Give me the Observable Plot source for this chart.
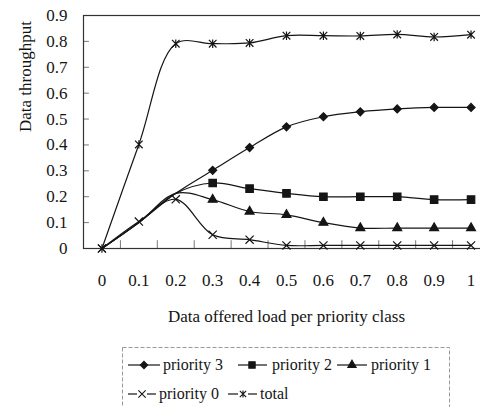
<!DOCTYPE html>
<html>
<head>
<meta charset="utf-8">
<script src="https://cdn.jsdelivr.net/npm/d3@7"></script>
<script src="https://cdn.jsdelivr.net/npm/@observablehq/plot@0.6"></script>
<style>
  html, body { margin: 0; padding: 0; background: #fff; overflow: hidden; }
  #chart { width: 480px; height: 407px; overflow: hidden; position: relative; }
</style>
</head>
<body>
<div id="chart"></div>
<script>
// Offered load per priority class (categories along x)
const loads = [0, 0.1, 0.2, 0.3, 0.4, 0.5, 0.6, 0.7, 0.8, 0.9, 1];
const xTickLabels = ["0", "0.1", "0.2", "0.3", "0.4", "0.5", "0.6", "0.7", "0.8", "0.9", "1"];
const yTicks = [0, 0.1, 0.2, 0.3, 0.4, 0.5, 0.6, 0.7, 0.8, 0.9];
const yTickLabels = ["0", "0.1", "0.2", "0.3", "0.4", "0.5", "0.6", "0.7", "0.8", "0.9"];

// Data throughput per class
const seriesNames = ["priority 3", "priority 2", "priority 1", "priority 0", "total"];
const priority3 = [0, 0.100, 0.213, 0.302, 0.390, 0.470, 0.509, 0.528, 0.539, 0.545, 0.545];
const priority2 = [0, 0.100, 0.213, 0.253, 0.231, 0.213, 0.200, 0.200, 0.200, 0.189, 0.189];
const priority1 = [0, 0.100, 0.213, 0.189, 0.143, 0.130, 0.100, 0.079, 0.079, 0.079, 0.079];
const priority0 = [0, 0.104, 0.190, 0.053, 0.034, 0.012, 0.012, 0.012, 0.012, 0.012, 0.012];
const total     = [0, 0.402, 0.791, 0.791, 0.794, 0.822, 0.822, 0.821, 0.827, 0.817, 0.826];
const seriesValues = [priority3, priority2, priority1, priority0, total];

const xTitle = "Data offered load per priority class";
const yTitle = "Data throughput";

const serif = "'Liberation Serif', 'Times New Roman', 'DejaVu Serif', serif";
const ink = "#151515";

// "X with a vertical bar" marker used for the total
const starMarker = {
  draw(ctx, size) {
    const r = Math.sqrt(size) * 0.5;
    ctx.moveTo(-r, -r); ctx.lineTo(r, r);
    ctx.moveTo(-r, r); ctx.lineTo(r, -r);
    ctx.moveTo(0, -r * 1.1); ctx.lineTo(0, r * 1.1);
  }
};

const markerStyle = {
  "priority 3": {symbol: "diamond2", r: 3.6, fill: ink, stroke: ink, legendSize: 34},
  "priority 2": {symbol: "square", r: 4.2, fill: ink, stroke: ink, legendSize: 40},
  "priority 1": {symbol: "triangle", r: 3.3, fill: ink, stroke: ink, legendSize: 30},
  "priority 0": {symbol: "times", r: 3.8, fill: "none", stroke: ink, legendSize: 36},
  "total":      {symbol: starMarker, r: 4.3, fill: "none", stroke: ink, legendSize: 40}
};
// the three upper classes only carry markers once they split apart
const markersFrom = {"priority 3": 0.3, "priority 2": 0.3, "priority 1": 0.3, "priority 0": 0, "total": 0};

const rows = [];
seriesNames.forEach((name, s) => {
  seriesValues[s].forEach((v, i) => rows.push({series: name, load: loads[i], value: v}));
});

// category boundaries, where the small inner ticks of the x axis sit
const boundaries = loads.slice(1).map((v, i) => (v + loads[i]) / 2);

const plot = Plot.plot({
  width: 489,
  height: 340,
  marginLeft: 83,
  marginRight: 0,
  marginTop: 15,
  marginBottom: 92,
  style: {fontFamily: serif, fontSize: "17px", color: ink, background: "#fff", maxWidth: "none", overflow: "visible"},
  x: {
    domain: [-0.05, 1.05],
    ticks: loads,
    tickSize: 0,
    tickPadding: 25,
    tickFormat: d => xTickLabels[loads.indexOf(d)],
    label: null
  },
  y: {
    domain: [0, 0.9],
    ticks: yTicks,
    tickSize: 0,
    tickPadding: 16,
    tickFormat: d => yTickLabels[yTicks.indexOf(d)],
    label: null
  },
  marks: [
    Plot.ruleY(yTicks, {x1: -0.05, x2: -0.05 + 0.016, stroke: "#777", strokeWidth: 1}),
    Plot.ruleX(boundaries, {y1: 0, y2: 0.03, stroke: "#777", strokeWidth: 1}),
    Plot.frame({stroke: "#333", strokeWidth: 1.2}),
    Plot.line(rows, {x: "load", y: "value", z: "series", curve: "catmull-rom", stroke: ink, strokeWidth: 1.2}),
    ...seriesNames.map(name => {
      const m = markerStyle[name];
      return Plot.dot(rows.filter(d => d.series === name && d.load >= markersFrom[name] - 1e-9), {
        x: "load", y: "value", symbol: m.symbol, r: m.r, fill: m.fill, stroke: m.stroke, strokeWidth: 1.2
      });
    }),
    Plot.text([xTitle], {text: d => d, frameAnchor: "bottom", dy: 68, fontSize: 17, lineAnchor: "middle", fill: ink}),
    Plot.text([yTitle], {text: d => d, frameAnchor: "left", dx: -58, rotate: -90, fontSize: 17, lineAnchor: "middle", fill: ink})
  ]
});
plot.style.display = "block";
document.getElementById("chart").appendChild(plot);

// Legend box below the chart
const legend = d3.create("svg")
  .attr("width", 480).attr("height", 67)
  .style("display", "block")
  .style("font-family", serif)
  .style("font-size", "16px");
legend.append("rect")
  .attr("x", 122.5).attr("y", 7.5).attr("width", 327).attr("height", 80)
  .attr("fill", "#fff").attr("stroke", "#999").attr("stroke-dasharray", "4,2");

const d3Symbols = {diamond2: d3.symbolDiamond2, square: d3.symbolSquare, triangle: d3.symbolTriangle, times: d3.symbolTimes};
const legendLayout = [
  {name: "priority 3", x1: 128, x2: 160, cx: 144, tx: 163, cy: 25, gap: 0},
  {name: "priority 2", x1: 238, x2: 267, cx: 252, tx: 272, cy: 25, gap: 0},
  {name: "priority 1", x1: 337, x2: 367, cx: 352, tx: 371, cy: 25, gap: 0},
  {name: "priority 0", x1: 128, x2: 156, cx: 142, tx: 159, cy: 54, gap: 5},
  {name: "total",      x1: 228, x2: 257, cx: 243, tx: 260, cy: 54, gap: 5}
];
for (const item of legendLayout) {
  const m = markerStyle[item.name];
  const g = legend.append("g");
  g.append("line").attr("x1", item.x1).attr("x2", item.cx - item.gap)
    .attr("y1", item.cy).attr("y2", item.cy).attr("stroke", ink).attr("stroke-width", 1.2);
  g.append("line").attr("x1", item.cx + item.gap).attr("x2", item.x2)
    .attr("y1", item.cy).attr("y2", item.cy).attr("stroke", ink).attr("stroke-width", 1.2);
  const type = typeof m.symbol === "string" ? d3Symbols[m.symbol] : m.symbol;
  g.append("path")
    .attr("d", d3.symbol().type(type).size(m.legendSize)())
    .attr("transform", `translate(${item.cx},${item.cy})`)
    .attr("fill", m.fill).attr("stroke", ink).attr("stroke-width", 1.1);
  g.append("text").attr("x", item.tx).attr("y", item.cy).attr("dy", "0.32em")
    .attr("fill", ink).text(item.name);
}
document.getElementById("chart").appendChild(legend.node());
</script>
</body>
</html>
